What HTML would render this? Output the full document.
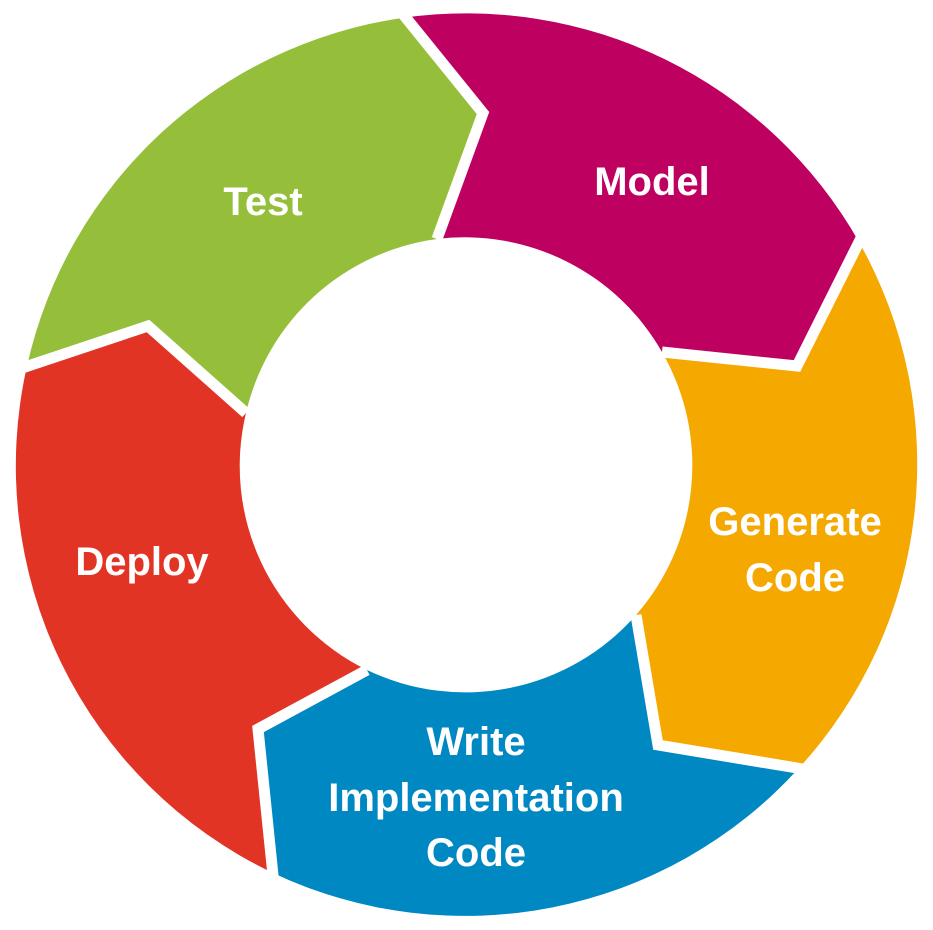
<!DOCTYPE html>
<html><head><meta charset="utf-8"><style>
html,body{margin:0;padding:0;background:#fff;}
svg{display:block;}
text{font-family:"Liberation Sans",Arial,sans-serif;font-weight:bold;fill:#fff;font-size:40px;text-anchor:middle;}
</style></head><body>
<svg width="933" height="930" viewBox="0 0 933 930" xmlns="http://www.w3.org/2000/svg">
<rect width="933" height="930" fill="#fff"/>
<!-- Model -->
<path fill="#be0060" d="M402,18 A451,451 0 0 1 859,242 L797,366 L662,352 A227,227 0 0 0 437,239 L483,113 Z"/>
<!-- Generate -->
<path fill="#f5a800" d="M859,242 A451,451 0 0 1 799,768 L658,745 L636,615 A227,227 0 0 0 662,352 L797,366 Z"/>
<!-- Write -->
<path fill="#0088c2" d="M799,768 A451,451 0 0 1 273,873 L258,729 L367,670 A227,227 0 0 0 636,615 L658,745 Z"/>
<!-- Deploy -->
<path fill="#e23424" d="M273,873 A451,451 0 0 1 27,366 L148,326 L246,413 A227,227 0 0 0 367,670 L258,729 Z"/>
<!-- Test -->
<path fill="#95bf3b" d="M27,366 A451,451 0 0 1 402,18 L483,113 L437,239 A227,227 0 0 0 246,413 L148,326 Z"/>
<g fill="none" stroke="#fff" stroke-width="11" stroke-linejoin="miter">
<polyline points="398,8 483,113 437,239"/>
<polyline points="864,232 797,366 662,352"/>
<polyline points="809,770 658,745 636,615"/>
<polyline points="274,885 258,729 367,670"/>
<polyline points="16,370 148,326 246,413"/>
</g>
<text x="263" y="215">Test</text>
<text x="652" y="195">Model</text>
<text x="795" y="535">Generate</text>
<text x="795" y="591">Code</text>
<text x="142" y="575">Deploy</text>
<text x="476" y="755">Write</text>
<text x="476" y="811">Implementation</text>
<text x="476" y="866">Code</text>
</svg>
</body></html>
